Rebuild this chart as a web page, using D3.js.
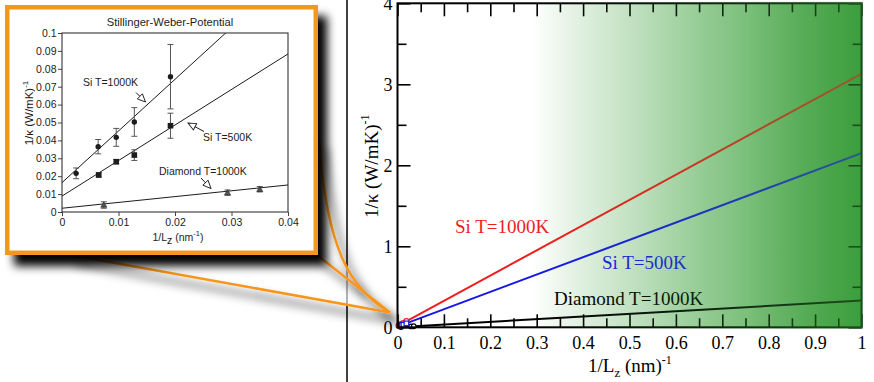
<!DOCTYPE html>
<html>
<head>
<meta charset="utf-8">
<script src="https://cdn.jsdelivr.net/npm/d3@7"></script>
<style>
  html, body { margin: 0; padding: 0; background: #fff; }
  svg { display: block; }
</style>
</head>
<body>
<svg id="fig" width="874" height="382"></svg>
<script>
// ---- Inset: Stillinger-Weber simulations, 1/kappa against 1/Lz ----
const si1000X   = [0.0025, 0.0064, 0.0096, 0.0128, 0.0192];
const si1000Y   = [0.0216, 0.0365, 0.0417, 0.0503, 0.0756];
const si1000Err = [0.003, 0.004, 0.005, 0.008, 0.018];

const si500X   = [0.0065, 0.0096, 0.0128, 0.0192];
const si500Y   = [0.0207, 0.0281, 0.0318, 0.0482];
const si500Err = [0.0012, 0.0012, 0.003, 0.007];

const diaX   = [0.0074, 0.0293, 0.0350];
const diaY   = [0.0039, 0.0108, 0.0127];
const diaErr = [0.0018, 0.0015, 0.0015];

// linear fits drawn in the inset: [intercept, slope]
const fitSi1000 = [0.0164, 2.886];
const fitSi500  = [0.0089, 1.985];
const fitDia    = [0.0021, 0.325];

// ---- Main axes: extrapolated lines, value at 1/Lz = 0 and at 1/Lz = 1 ----
const lineX      = [0, 1];
const lineSi1000 = [0.016, 3.13];
const lineSi500  = [0.009, 2.15];
const lineDia    = [0.002, 0.33];

// tick values and labels
const mainXTicks   = [0, 0.1, 0.2, 0.3, 0.4, 0.5, 0.6, 0.7, 0.8, 0.9, 1];
const mainXLabels  = ["0", "0.1", "0.2", "0.3", "0.4", "0.5", "0.6", "0.7", "0.8", "0.9", "1"];
const mainXMinor   = [0.05, 0.15, 0.25, 0.35, 0.45, 0.55, 0.65, 0.75, 0.85, 0.95];
const mainYTicks   = [0, 1, 2, 3, 4];
const mainYLabels  = ["0", "1", "2", "3", "4"];
const mainYMinor   = [0.5, 1.5, 2.5, 3.5];
const insetXTicks  = [0, 0.01, 0.02, 0.03, 0.04];
const insetXLabels = ["0", "0.01", "0.02", "0.03", "0.04"];
const insetYTicks  = [0, 0.01, 0.02, 0.03, 0.04, 0.05, 0.06, 0.07, 0.08, 0.09, 0.1];
const insetYLabels = ["0", "0.01", "0.02", "0.03", "0.04", "0.05", "0.06", "0.07", "0.08", "0.09", "0.1"];

const RED = "#ee1d1d", BLUE = "#1616e6", ORANGE = "#f7961e";
const SERIF = "'Liberation Serif', 'Times New Roman', serif";
const SANS = "'Liberation Sans', Arial, Helvetica, sans-serif";

const svg = d3.select("#fig");
const defs = svg.append("defs");

// ---------- main chart ----------
const x = d3.scaleLinear().domain([0, 1]).range([397.5, 861.5]);
const y = d3.scaleLinear().domain([0, 4]).range([327.3, 3.3]);

// green wash that deepens toward short lengths
const bgGrad = defs.append("linearGradient").attr("id", "bgGrad")
  .attr("gradientUnits", "userSpaceOnUse")
  .attr("x1", x(0)).attr("x2", x(1)).attr("y1", 0).attr("y2", 0);
[[0, "#ffffff"], [0.29, "#ffffff"], [0.5, "#d6ebd6"], [0.75, "#98cf98"], [1, "#3fa03f"]]
  .forEach(([o, c]) => bgGrad.append("stop").attr("offset", o).attr("stop-color", c));

const ovGrad = defs.append("linearGradient").attr("id", "ovGrad")
  .attr("gradientUnits", "userSpaceOnUse")
  .attr("x1", x(0)).attr("x2", x(1)).attr("y1", 0).attr("y2", 0);
[[0, 0], [0.29, 0], [0.6, 0.18], [1, 0.5]]
  .forEach(([o, a]) => ovGrad.append("stop").attr("offset", o)
    .attr("stop-color", "#3a9c3a").attr("stop-opacity", a));

// drop shadows for the callout tail and the inset panel
function shadow(id, dx, dy, sd, op) {
  const f = defs.append("filter").attr("id", id)
    .attr("filterUnits", "userSpaceOnUse")
    .attr("x", 0).attr("y", 0).attr("width", 874).attr("height", 382);
  f.append("feDropShadow").attr("dx", dx).attr("dy", dy)
    .attr("stdDeviation", sd).attr("flood-color", "#000").attr("flood-opacity", op);
}
shadow("tailShadow", 7, 9, 5, 0.9);
shadow("panelShadow", 9, 11, 5, 1);

const main = svg.append("g");
main.append("rect")
  .attr("x", x(0)).attr("y", y(4))
  .attr("width", x(1) - x(0)).attr("height", y(0) - y(4))
  .attr("fill", "url(#bgGrad)");

const lineGen = d3.line().x(d => x(d[0])).y(d => y(d[1]));
[[lineSi1000, RED], [lineSi500, BLUE], [lineDia, "#000"]].forEach(([vals, col]) => {
  main.append("path")
    .datum(lineX.map((v, i) => [v, vals[i]]))
    .attr("d", lineGen)
    .attr("fill", "none").attr("stroke", col).attr("stroke-width", 2);
});

// simulation points on the full scale
main.selectAll(".pDia").data(diaX.map((v, i) => [v, diaY[i]])).join("circle")
  .attr("cx", d => x(d[0])).attr("cy", d => y(d[1])).attr("r", 2.3)
  .attr("fill", "#fff").attr("stroke", "#000").attr("stroke-width", 1.2);
main.selectAll(".p1000").data(si1000X.map((v, i) => [v, si1000Y[i]])).join("circle")
  .attr("cx", d => x(d[0])).attr("cy", d => y(d[1])).attr("r", 2.6)
  .attr("fill", "#fff").attr("stroke", RED).attr("stroke-width", 1.2);
main.selectAll(".p500").data(si500X.map((v, i) => [v, si500Y[i]])).join("rect")
  .attr("x", d => x(d[0]) - 2.3).attr("y", d => y(d[1]) - 2.3)
  .attr("width", 4.6).attr("height", 4.6)
  .attr("fill", "#fff").attr("stroke", BLUE).attr("stroke-width", 1.2);

// series labels
main.append("text").attr("x", 455).attr("y", 233).text("Si T=1000K")
  .attr("fill", RED).attr("font-family", SERIF).attr("font-size", 19);
main.append("text").attr("x", 602).attr("y", 269).text("Si T=500K")
  .attr("fill", BLUE).attr("font-family", SERIF).attr("font-size", 19);
main.append("text").attr("x", 554).attr("y", 305).text("Diamond T=1000K")
  .attr("fill", "#000").attr("font-family", SERIF).attr("font-size", 19);

// frame and inward ticks on all four sides
function styleAxis(g) {
  g.select(".domain").remove();
  g.selectAll("line").attr("stroke", "#000").attr("stroke-width", 1.6);
  g.selectAll("text").attr("font-family", SERIF).attr("font-size", 18).attr("fill", "#000");
}
main.append("g").attr("transform", `translate(0,${y(0)})`)
  .call(d3.axisBottom(x).tickValues(mainXTicks).tickFormat((d, i) => mainXLabels[i])
    .tickSize(-13).tickPadding(9)).call(styleAxis);
main.append("g").attr("transform", `translate(0,${y(0)})`)
  .call(d3.axisBottom(x).tickValues(mainXMinor).tickFormat("").tickSize(-9)).call(styleAxis);
main.append("g").attr("transform", `translate(0,${y(4)})`)
  .call(d3.axisTop(x).tickValues(mainXTicks).tickFormat("").tickSize(-13)).call(styleAxis);
main.append("g").attr("transform", `translate(0,${y(4)})`)
  .call(d3.axisTop(x).tickValues(mainXMinor).tickFormat("").tickSize(-9)).call(styleAxis);
main.append("g").attr("transform", `translate(${x(0)},0)`)
  .call(d3.axisLeft(y).tickValues(mainYTicks).tickFormat((d, i) => mainYLabels[i])
    .tickSize(-13).tickPadding(5)).call(styleAxis);
main.append("g").attr("transform", `translate(${x(0)},0)`)
  .call(d3.axisLeft(y).tickValues(mainYMinor).tickFormat("").tickSize(-9)).call(styleAxis);
main.append("g").attr("transform", `translate(${x(1)},0)`)
  .call(d3.axisRight(y).tickValues(mainYTicks).tickFormat("").tickSize(-13)).call(styleAxis);
main.append("g").attr("transform", `translate(${x(1)},0)`)
  .call(d3.axisRight(y).tickValues(mainYMinor).tickFormat("").tickSize(-9)).call(styleAxis);

main.append("rect")
  .attr("x", x(0)).attr("y", y(4))
  .attr("width", x(1) - x(0)).attr("height", y(0) - y(4))
  .attr("fill", "none").attr("stroke", "#000").attr("stroke-width", 2);

// wash over the marks so lines and ticks pick up the green
main.append("rect")
  .attr("x", x(0) - 1.5).attr("y", y(4) - 1.5)
  .attr("width", x(1) - x(0) + 3).attr("height", y(0) - y(4) + 3)
  .attr("fill", "url(#ovGrad)");

// axis titles
const xt = main.append("text").attr("x", 588).attr("y", 372)
  .attr("font-family", SERIF).attr("font-size", 19).attr("fill", "#000");
xt.append("tspan").text("1/L");
xt.append("tspan").text("z").attr("font-size", 13).attr("dy", 5);
xt.append("tspan").text(" (nm)").attr("dy", -5);
xt.append("tspan").text("-1").attr("font-size", 12).attr("dy", -8);

const yt = main.append("text")
  .attr("transform", "translate(378,218) rotate(-90)")
  .attr("font-family", SERIF).attr("font-size", 19).attr("fill", "#000");
yt.append("tspan").text("1/\u03ba (W/mK)");
yt.append("tspan").text("-1").attr("font-size", 12).attr("dy", -9);

// separator line of the figure panel
svg.append("line").attr("x1", 347).attr("x2", 347).attr("y1", 0).attr("y2", 382)
  .attr("stroke", "#000").attr("stroke-width", 1.5);

// ---------- callout with the inset ----------
const tip = [390, 312.5];
svg.append("path")
  .attr("d", `M70,255 L${tip[0]},${tip[1]} C350,289 327,250 319,140 L316,140 L316,255 Z`)
  .attr("fill", "#fff").attr("fill-opacity", 0.6);

const tail = svg.append("g").attr("filter", "url(#tailShadow)");
tail.append("path")
  .attr("d", `M70,255 L${tip[0]},${tip[1]} C350,289 327,250 319,140`)
  .attr("fill", "none").attr("stroke", ORANGE).attr("stroke-width", 2.6);
tail.append("path")
  .attr("d", `M317,255 L${tip[0]},${tip[1]}`)
  .attr("fill", "none").attr("stroke", ORANGE).attr("stroke-width", 2.6);

svg.append("rect").attr("filter", "url(#panelShadow)")
  .attr("x", 7.25).attr("y", 7.25).attr("width", 308.5).attr("height", 245.5)
  .attr("fill", "#fff").attr("stroke", ORANGE).attr("stroke-width", 4.5);

// ---------- inset plot ----------
const xi = d3.scaleLinear().domain([0, 0.04]).range([62, 288]);
const yi = d3.scaleLinear().domain([0, 0.1]).range([212, 33]);
const inset = svg.append("g");

defs.append("clipPath").attr("id", "insetClip").append("rect")
  .attr("x", xi(0)).attr("y", yi(0.1)).attr("width", xi(0.04) - xi(0)).attr("height", yi(0) - yi(0.1));

const INK = "#1c1c1c";
function styleInset(g) {
  g.select(".domain").remove();
  g.selectAll("line").attr("stroke", "#444").attr("stroke-width", 1);
  g.selectAll("text").attr("font-family", SANS).attr("font-size", 10.5).attr("fill", INK);
}
inset.append("g").attr("transform", `translate(0,${yi(0)})`)
  .call(d3.axisBottom(xi).tickValues(insetXTicks).tickFormat((d, i) => insetXLabels[i])
    .tickSize(4).tickPadding(3)).call(styleInset);
inset.append("g").attr("transform", `translate(${xi(0)},0)`)
  .call(d3.axisLeft(yi).tickValues(insetYTicks).tickFormat((d, i) => insetYLabels[i])
    .tickSize(4).tickPadding(1.5)).call(styleInset);
inset.append("rect")
  .attr("x", xi(0)).attr("y", yi(0.1))
  .attr("width", xi(0.04) - xi(0)).attr("height", yi(0) - yi(0.1))
  .attr("fill", "none").attr("stroke", "#333").attr("stroke-width", 1.1);

// fit lines
const fitGen = d3.line().x(d => xi(d[0])).y(d => yi(d[1]));
[fitSi1000, fitSi500, fitDia].forEach(([b, m]) => {
  inset.append("path")
    .datum([[0, b], [0.04, b + m * 0.04]])
    .attr("d", fitGen).attr("clip-path", "url(#insetClip)")
    .attr("fill", "none").attr("stroke", INK).attr("stroke-width", 1);
});

// error bars
function errorBars(xs, ys, es) {
  xs.forEach((v, i) => {
    const cx = xi(v), t = yi(ys[i] + es[i]), b = yi(ys[i] - es[i]);
    inset.append("path")
      .attr("d", `M${cx},${t}V${b}M${cx - 3},${t}H${cx + 3}M${cx - 3},${b}H${cx + 3}`)
      .attr("fill", "none").attr("stroke", "#555").attr("stroke-width", 1);
  });
}
errorBars(si1000X, si1000Y, si1000Err);
errorBars(si500X, si500Y, si500Err);
errorBars(diaX, diaY, diaErr);

inset.selectAll(".c").data(si1000X.map((v, i) => [v, si1000Y[i]])).join("circle")
  .attr("cx", d => xi(d[0])).attr("cy", d => yi(d[1])).attr("r", 2.7).attr("fill", INK);
inset.selectAll(".s").data(si500X.map((v, i) => [v, si500Y[i]])).join("rect")
  .attr("x", d => xi(d[0]) - 2.8).attr("y", d => yi(d[1]) - 2.8)
  .attr("width", 5.6).attr("height", 5.6).attr("fill", INK);
inset.selectAll(".t").data(diaX.map((v, i) => [v, diaY[i]])).join("path")
  .attr("d", d => { const cx = xi(d[0]), cy = yi(d[1]); return `M${cx},${cy - 3}L${cx + 3},${cy + 2.2}L${cx - 3},${cy + 2.2}Z`; })
  .attr("fill", "#555").attr("stroke", INK).attr("stroke-width", 0.6);

// hollow-head arrows pointing at the fits
defs.append("marker").attr("id", "openHead")
  .attr("viewBox", "-9 -5 10 10").attr("refX", 0).attr("refY", 0)
  .attr("markerWidth", 10).attr("markerHeight", 10)
  .attr("markerUnits", "userSpaceOnUse").attr("orient", "auto")
  .append("path").attr("d", "M0,0 L-8,-3.6 L-8,3.6 Z")
  .attr("fill", "#fff").attr("stroke", INK).attr("stroke-width", 0.9);

[[[136, 92.5], [145.5, 102]], [[204, 131.5], [188, 123]], [[201, 178], [211, 188.5]]]
  .forEach(([a, b]) => {
    inset.append("line").attr("x1", a[0]).attr("y1", a[1]).attr("x2", b[0]).attr("y2", b[1])
      .attr("stroke", INK).attr("stroke-width", 1).attr("marker-end", "url(#openHead)");
  });

const note = (tx, ty, s) => inset.append("text").attr("x", tx).attr("y", ty).text(s)
  .attr("font-family", SANS).attr("font-size", 10.5).attr("fill", INK);
note(83, 86, "Si T=1000K");
note(203, 141, "Si T=500K");
note(159, 175, "Diamond T=1000K");

inset.append("text").attr("x", 170).attr("y", 26).attr("text-anchor", "middle")
  .text("Stillinger-Weber-Potential")
  .attr("font-family", SANS).attr("font-size", 11.2).attr("fill", INK);

const ixt = inset.append("text").attr("x", 178).attr("y", 241).attr("text-anchor", "middle")
  .attr("font-family", SANS).attr("font-size", 10.5).attr("fill", INK);
ixt.append("tspan").text("1/L");
ixt.append("tspan").text("z").attr("dy", 3);
ixt.append("tspan").text(" (nm").attr("dy", -3);
ixt.append("tspan").text("-1").attr("font-size", 7.5).attr("dy", -5);
ixt.append("tspan").text(")").attr("dy", 5);

const iyt = inset.append("text")
  .attr("transform", "translate(33,113) rotate(-90)").attr("text-anchor", "middle")
  .attr("font-family", SANS).attr("font-size", 11.5).attr("fill", INK);
iyt.append("tspan").text("1/\u03ba (W/mK)");
iyt.append("tspan").text("-1").attr("font-size", 8).attr("dy", -5);
</script>
</body>
</html>
